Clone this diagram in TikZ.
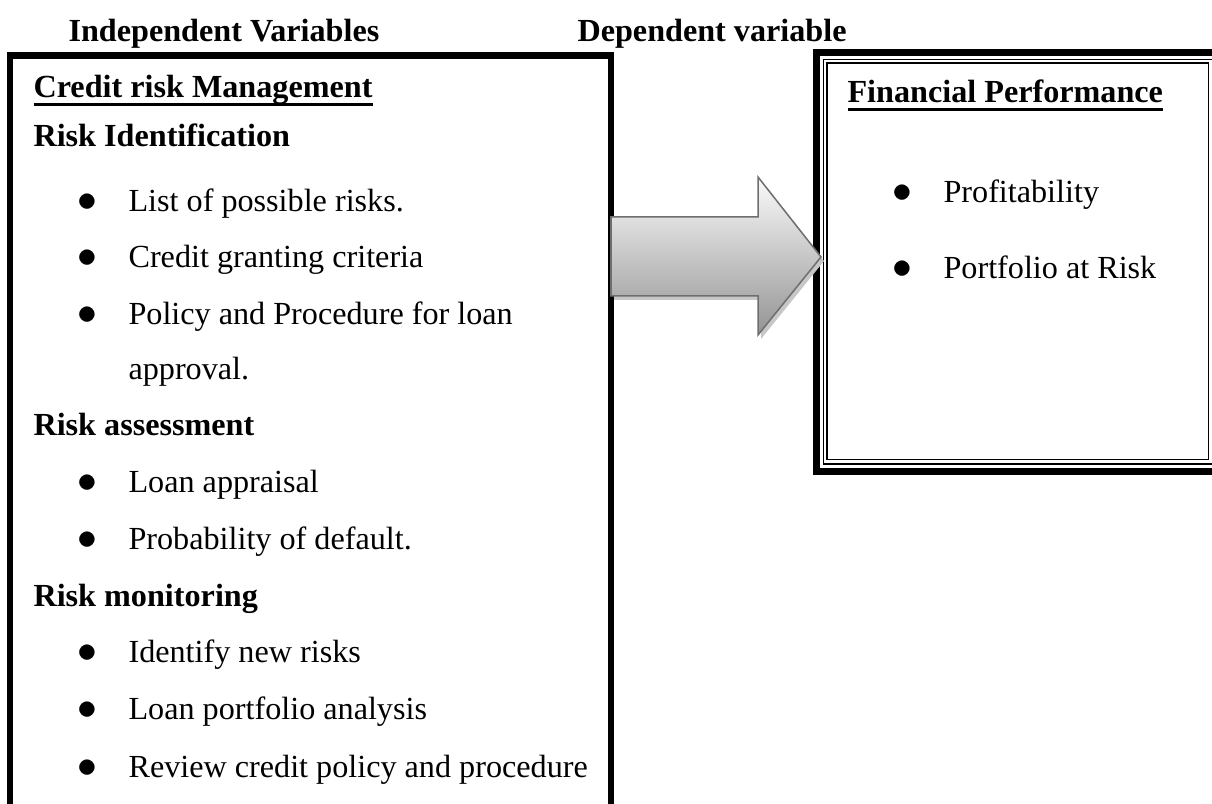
\documentclass[tikz,border=0pt]{standalone}
\usepackage{fontspec}
\setmainfont{Liberation Serif}
\usetikzlibrary{shapes,arrows}
\newcommand{\ulbox}[1]{\leavevmode\setbox0\hbox{#1}\rlap{\raisebox{-2.9pt}{\rule{\wd0}{1.1pt}}}\box0}
\def\txtsize{\fontsize{11.7}{14}\selectfont}
\tikzstyle{title} = [anchor=base west, inner sep=0, font=\txtsize\bfseries]
\tikzstyle{head} = [anchor=base west, inner sep=0, font=\txtsize\bfseries]
\tikzstyle{item} = [anchor=base west, inner sep=0, font=\txtsize]
\tikzstyle{bul} = [anchor=base, inner sep=0, font=\fontsize{14}{14}\selectfont]
\tikzstyle{ivbox} = [draw=black, line width=2.36pt, anchor=north west, inner sep=0, outer sep=0]
\tikzstyle{dvbox} = [draw=black, line width=2.55pt, anchor=north west, inner sep=0, outer sep=0]
\tikzstyle{dvline} = [draw=black, line width=0.45pt, anchor=north west, inner sep=0, outer sep=0]
\tikzstyle{blockarrow} = [draw=black!57, line width=0.55pt, top color=black!2, bottom color=black!42]
\tikzstyle{blockshadow} = [fill=black!22]
\def\pxlen{0.3636pt}
\def\itemx{128}

\begin{document}
\begin{tikzpicture}[x=\pxlen, y=-\pxlen]
    \useasboundingbox (0,0) rectangle (1212,804);
    \clip (0,0) rectangle (1212,804);

    \node (indep) [title] at (68,42) {Independent Variables};
    \node (dep) [title] at (577,42) {Dependent variable};

    % left box (runs off the bottom)
    \node (leftbox) [ivbox, minimum width=218.5pt, minimum height=285.2pt] at (10,55.5) {};

    \path (leftbox.north west)+(23,42.5) node (crm) [head] {\ulbox{Credit risk Management}};
    \path (leftbox.north west)+(23,91.5) node (riskid) [head] {Risk Identification};
    \node (riskas) [head] at (33,436) {Risk assessment};
    \node (riskmo) [head] at (33,607) {Risk monitoring};

    \foreach \y/\txt [count=\i] in {212/List of possible risks., 268/Credit granting criteria,
        325/Policy and Procedure for loan, 493/Loan appraisal, 550/Probability of default.,
        663/Identify new risks, 720/Loan portfolio analysis, 778/Review credit policy and procedure}
    {
        \node (b\i) [bul] at (87.5,\y) {$\bullet$};
        \node (t\i) [item] at (\itemx,\y) {\txt};
    }
    \node (t3b) [item] at (\itemx,380) {approval.};

    % right box, thick-thin border
    \node (fpbox) [dvbox, minimum width=146.5pt, minimum height=152.2pt] at (816.5,52.5) {};
    \node (fpmid) [dvline, minimum width=141.4pt, minimum height=147.1pt] at (823.5,59.5) {};
    \node (fpin) [dvline, minimum width=138.8pt, minimum height=144.3pt] at (827,63) {};

    \path (fpbox.north west)+(30.5,50.5) node (fp) [head] {\ulbox{Financial Performance}};
    \foreach \y/\txt [count=\i] in {203/Profitability, 279/Portfolio at Risk}
    {
        \node (rb\i) [bul] at (902,\y) {$\bullet$};
        \node (rt\i) [item] at (943,\y) {\txt};
    }

    % block arrow between the boxes
    \path[blockshadow] (614,300) -- (761,300) -- (761,339) -- (824,261) -- (761,181) -- (761,221) -- (614,221) -- cycle;
    \path[blockarrow] (611,217) -- (758,217) -- (758,177) -- (821,257) -- (758,335) -- (758,296) -- (611,296) -- cycle;

\end{tikzpicture}
\end{document}
